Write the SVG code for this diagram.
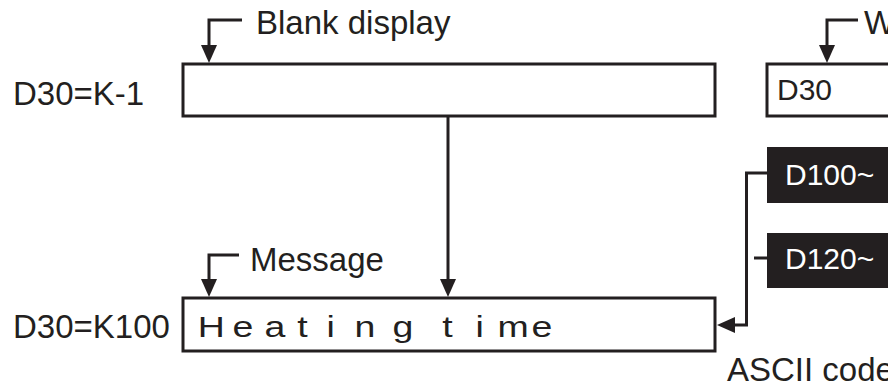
<svg xmlns="http://www.w3.org/2000/svg" width="888" height="381" viewBox="0 0 888 381">
<defs>
<style>
.box{fill:#fff;stroke:#231f20;stroke-width:3}
.dark{fill:#231f20;stroke:none}
.ln{fill:none;stroke:#231f20;stroke-width:3}
.t{font-family:"Liberation Sans",Arial,sans-serif;font-size:33px;fill:#231f20}
.w{font-family:"Liberation Sans",Arial,sans-serif;font-size:30px;fill:#fff}
.m{font-family:"Liberation Sans",Arial,sans-serif;font-size:30px;fill:#231f20}
</style>
<marker id="ah" markerUnits="userSpaceOnUse" markerWidth="18" markerHeight="16" refX="10" refY="8" orient="auto" viewBox="0 0 18 16">
<path d="M0,0 L18,8 L0,16 z" fill="#231f20"/>
</marker>
</defs>
<rect width="888" height="381" fill="#fff"/>
<g id="labels">
<text class="t" x="13" y="105">D30=K-1</text>
<text class="t" x="13" y="338">D30=K100</text>
<text class="t" x="256" y="34">Blank display</text>
<text class="t" x="250" y="271">Message</text>
<text class="t" x="864" y="34">W</text>
<text class="t" x="727" y="381">ASCII code</text>
</g>
<g id="node-blank">
<rect class="box" x="183" y="64" width="532" height="52"/>
</g>
<g id="node-d30">
<rect class="box" x="767" y="64" width="130" height="52"/>
<text class="m" x="777" y="100">D30</text>
</g>
<g id="node-message">
<rect class="box" x="183" y="298" width="532" height="53"/>
<g transform="scale(1.25,1)">
<text class="m" x="158.2 186 211.6 237.9 261.2 283.6 314 330 353.9 380.4 398 425.2" y="337">Heating time</text>
</g>
</g>
<g id="node-d100">
<rect class="dark" x="767" y="147" width="130" height="56"/>
<text class="w" x="785" y="185">D100~</text>
</g>
<g id="node-d120">
<rect class="dark" x="767" y="233" width="130" height="55"/>
<text class="w" x="785" y="269">D120~</text>
</g>
<g id="connectors">
<polyline class="ln" points="242,20 209,20 209,55" marker-end="url(#ah)"/>
<polyline class="ln" points="239,255 209,255 209,289" marker-end="url(#ah)"/>
<polyline class="ln" points="858,20 827,20 827,55" marker-end="url(#ah)"/>
<line class="ln" x1="448" y1="116" x2="448" y2="289" marker-end="url(#ah)"/>
<polyline class="ln" points="767,173 746.5,173 746.5,325 725,325" marker-end="url(#ah)"/>
<line class="ln" x1="754" y1="258" x2="767" y2="258"/>
</g>
</svg>
